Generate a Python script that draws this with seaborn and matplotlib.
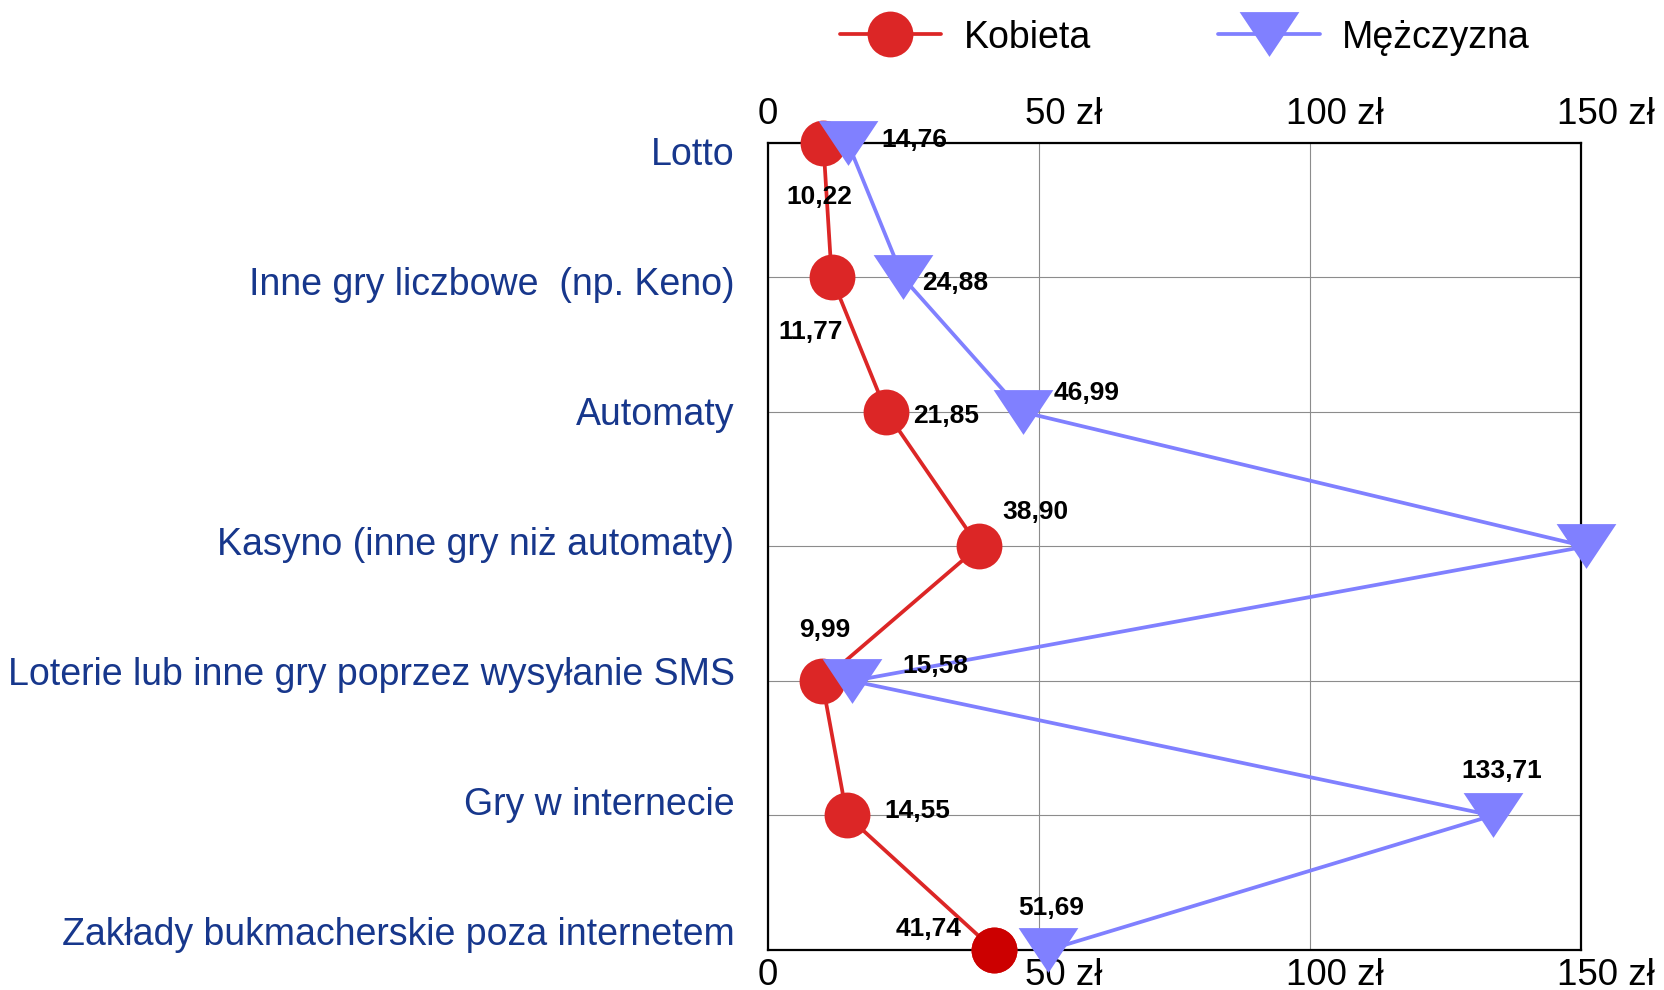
import pandas as pd
import seaborn as sns
import matplotlib.pyplot as plt
import matplotlib.transforms as mtransforms
from matplotlib.lines import Line2D

# =============================
#  Dane
# =============================
categories = [
    "Lotto",
    "Inne gry liczbowe  (np. Keno)",
    "Automaty",
    "Kasyno (inne gry niż automaty)",
    "Loterie lub inne gry poprzez wysyłanie SMS",
    "Gry w internecie",
    "Zakłady bukmacherskie poza internetem",
]
kobieta = [10.22, 11.77, 21.85, 38.90, 9.99, 14.55, 41.74]
mezczyzna = [14.76, 24.88, 46.99, 150.90, 15.58, 133.71, 51.69]
series_names = ["Kobieta", "Mężczyzna"]
x_ticks = [0, 50, 100, 150]
x_tick_labels = ["0", "50 zł", "100 zł", "150 zł"]

# przesunięcia etykiet wartości (punkty)
off_k = [(-3, -39), (-15, -39), (43, -3), (41, 25), (2, 37), (51, 3), (-47, 15)]
off_m = [(48, 2), (38, -4), (46, 14), (-51, 31), (60, 11), (7, 32), (2, 30)]

colors = {"Kobieta": "#dc2626", "Mężczyzna": "#8080ff"}
label_color = "#17378c"
tri = [(-1, 0.75), (1, 0.75), (0, -0.75), (-1, 0.75)]  # szeroki trójkąt w dół

rows = []
for i, cat in enumerate(categories):
    rows.append({"gra": cat, "pos": i, "kwota": kobieta[i], "plec": series_names[0]})
for i, cat in enumerate(categories):
    rows.append({"gra": cat, "pos": i, "kwota": mezczyzna[i], "plec": series_names[1]})
df = pd.DataFrame(rows)

# =============================
#  Wykres
# =============================
sns.set_style("white")
plt.rcParams["font.family"] = ["Liberation Sans", "DejaVu Sans"]

fig = plt.figure(figsize=(16.64, 9.9), dpi=100)
ax = fig.add_axes([0.4615, 0.0404, 0.4885, 0.8152])

# linie
sns.lineplot(data=df, x="kwota", y="pos", hue="plec", palette=colors, sort=False,
             estimator=None, legend=False, linewidth=2.7, ax=ax)
# znaczniki
sns.scatterplot(data=df[df["plec"] == "Kobieta"], x="kwota", y="pos", color=colors["Kobieta"],
                marker="o", s=33 ** 2, linewidth=0, clip_on=False, zorder=3, legend=False, ax=ax)
sns.scatterplot(data=df[df["plec"] == "Kobieta"].tail(1), x="kwota", y="pos", color="#cc0000",
                marker="o", s=33 ** 2, linewidth=0, clip_on=False, zorder=3, legend=False, ax=ax)
sns.scatterplot(data=df[df["plec"] == "Mężczyzna"], x="kwota", y="pos", color=colors["Mężczyzna"],
                marker=tri, s=43 ** 2, linewidth=0, clip_on=False, zorder=3, legend=False, ax=ax)

# etykiety wartości
for i, v in enumerate(kobieta):
    ax.annotate(f"{v:.2f}".replace(".", ","), (v, i), xytext=off_k[i], textcoords="offset points",
                ha="center", va="center", fontsize=19, fontweight="bold", color="black", zorder=4)
for i, v in enumerate(mezczyzna):
    ax.annotate(f"{v:.2f}".replace(".", ","), (v, i), xytext=off_m[i], textcoords="offset points",
                ha="center", va="center", fontsize=19, fontweight="bold", color="black", zorder=4)

# osie
ax.set_xlim(0, 150)
ax.set_ylim(len(categories) - 1, 0)
ax.set_xlabel("")
ax.set_ylabel("")
ax.set_xticks(x_ticks, x_tick_labels)
ax.tick_params(axis="x", which="both", top=True, labeltop=True, bottom=True, labelbottom=True,
               length=0, labelsize=26.5, pad=6, labelcolor="black")
for tick in ax.xaxis.get_major_ticks():
    tick.label2.set_transform(tick.label2.get_transform() +
                              mtransforms.ScaledTranslation(0, 3 / 100, fig.dpi_scale_trans))
    if "zł" in tick.label1.get_text():
        shift = mtransforms.ScaledTranslation(25 / 100, 0, fig.dpi_scale_trans)
        tick.label1.set_transform(tick.label1.get_transform() + shift)
        tick.label2.set_transform(tick.label2.get_transform() + shift)

ax.set_yticks(range(len(categories)), [""] * len(categories))
label_pos = [0.063 + i * 0.966 for i in range(len(categories))]
ax.set_yticks(label_pos, categories, minor=True)
ax.tick_params(axis="y", which="both", length=0)
ax.tick_params(axis="y", which="minor", labelsize=27, labelcolor=label_color, pad=24)

ax.grid(True, which="major", color="#8c8c8c", linewidth=0.8)
ax.set_axisbelow(True)
for s in ax.spines.values():
    s.set_visible(True)
    s.set_color("black")
    s.set_linewidth(1.6)

# legenda
handles = [
    Line2D([], [], color=colors["Kobieta"], marker="o", markersize=33, markeredgewidth=0, linewidth=2.7),
    Line2D([], [], color=colors["Mężczyzna"], marker=tri, markersize=43, markeredgewidth=0, linewidth=2.7),
]
leg = fig.legend(handles, series_names, loc="center", bbox_to_anchor=(0.712, 0.962), ncol=2,
                 frameon=False, fontsize=27, handlelength=2.7, handletextpad=0.6, columnspacing=3.4)
for t in leg.get_texts():
    t.set_color("black")

fig.savefig("out.png", dpi=100)
